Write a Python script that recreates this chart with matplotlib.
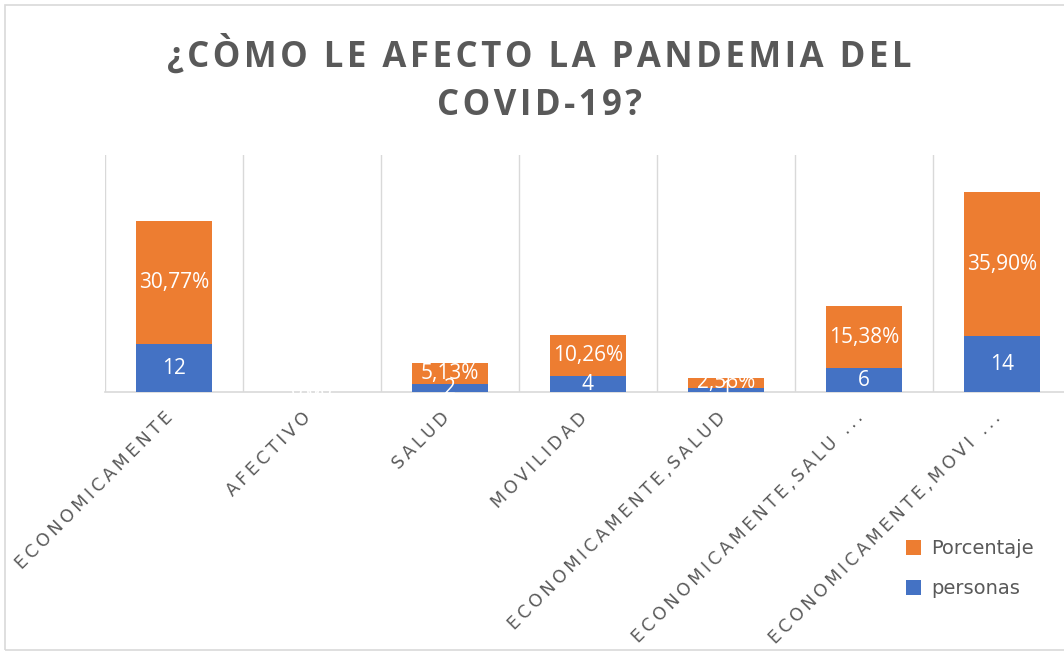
import numpy as np
import matplotlib.pyplot as plt
from matplotlib.transforms import ScaledTranslation

categorias = ["ECONOMICAMENTE", "AFECTIVO", "SALUD", "MOVILIDAD",
              "ECONOMICAMENTE,SALUD", "ECONOMICAMENTE,SALU ...",
              "ECONOMICAMENTE,MOVI ..."]
personas = [12, 0, 2, 4, 1, 6, 14]
porcentaje = [30.77, 0.00, 5.13, 10.26, 2.56, 15.38, 35.90]

AZUL = "#4472C4"
NARANJA = "#ED7D31"
GRIS = "#595959"
LINEA = "#D9D9D9"


def espaciar(txt, sep="\u2009"):
    # imitar el espaciado de letras de Excel
    return sep.join(list(txt))


fig = plt.figure(figsize=(10.64, 6.52), dpi=100)
# borde del area del grafico
fig.patches.append(plt.Rectangle((0.005, 0.003), 1.2, 0.99, transform=fig.transFigure,
                                 fill=False, edgecolor=LINEA, linewidth=1.2))

ax = fig.add_axes([105 / 1064, 1 - 392 / 652, 966 / 1064, 237 / 652])
x = np.arange(len(categorias))

b1 = ax.bar(x, personas, width=0.55, color=AZUL, zorder=3, label="personas")
b2 = ax.bar(x, porcentaje, width=0.55, bottom=personas, color=NARANJA, zorder=3,
            label="Porcentaje")

for i in range(len(categorias)):
    ax.text(x[i], personas[i] / 2, str(personas[i]), ha="center", va="center",
            color="white", fontsize=15, zorder=4, family="Open Sans")
    etiqueta = f"{porcentaje[i]:.2f}%".replace(".", ",")
    if porcentaje[i] == 0:
        etiqueta = "0,00"
    ax.text(x[i], personas[i] + porcentaje[i] / 2, etiqueta, ha="center", va="center",
            color="white", fontsize=15, zorder=5, family="Open Sans")

ax.set_xlim(-0.5, 6.5)
ax.set_ylim(0, 59.25)
ax.set_yticks([])
ax.set_xticks(x)
ax.set_xticklabels([espaciar(c) for c in categorias], rotation=45, ha="right",
                   rotation_mode="anchor", color=GRIS, fontsize=12.5)
ax.tick_params(axis="x", length=0, pad=12)
desplaza = ScaledTranslation(-10 / 100, 0, fig.dpi_scale_trans)
for lbl in ax.get_xticklabels():
    lbl.set_transform(lbl.get_transform() + desplaza)
for xv in np.arange(-0.5, 7, 1):
    ax.axvline(xv, color=LINEA, linewidth=1, zorder=1)
for s in ["top", "right", "left"]:
    ax.spines[s].set_visible(False)
ax.spines["bottom"].set_color(LINEA)
ax.spines["bottom"].set_linewidth(1.2)
ax.spines["bottom"].set_zorder(2)

fig.text(0.507, 0.915, espaciar("¿CÒMO LE AFECTO LA PANDEMIA DEL", "\u200a"), ha="center",
         va="center", fontsize=25, fontweight="bold", color=GRIS, family="Open Sans")
fig.text(0.507, 0.838, espaciar("COVID-19?", "\u200a"), ha="center", va="center",
         fontsize=25, fontweight="bold", color=GRIS, family="Open Sans")

fig.legend(handles=[b2, b1], loc="upper left", bbox_to_anchor=(0.835, 0.2),
           frameon=False, fontsize=14, labelcolor=GRIS, handlelength=0.8,
           handleheight=0.8, labelspacing=1.1, handletextpad=0.5)

fig.savefig("out.png", dpi=100)
